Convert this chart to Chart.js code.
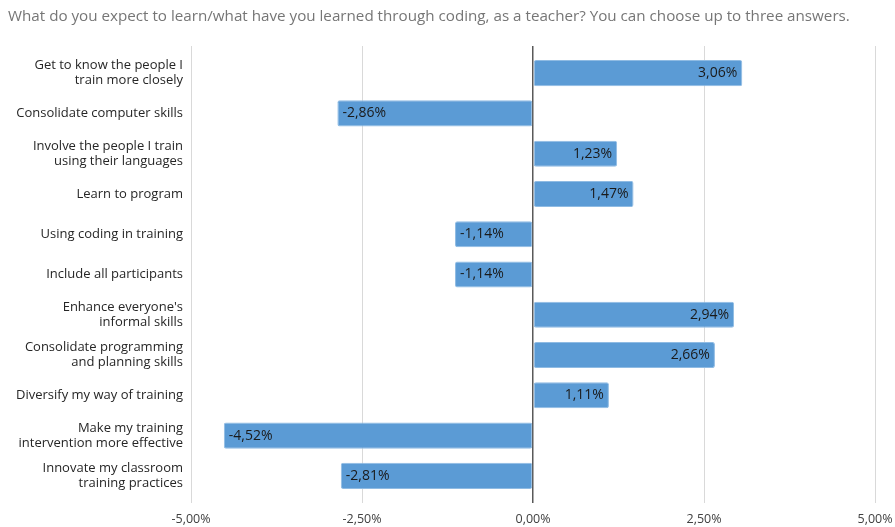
<!DOCTYPE html>
<html>
<head>
<meta charset="utf-8">
<title>Coding for teachers</title>
<script src="https://cdn.jsdelivr.net/npm/chart.js@4/dist/chart.umd.min.js"></script>
<style>
  html, body { margin: 0; padding: 0; background: #fff; }
  #wrap { width: 895px; height: 527px; position: relative; }
</style>
</head>
<body>
<div id="wrap"><canvas id="chart"></canvas></div>
<script>
const TITLE = 'What do you expect to learn/what have you learned through coding, as a teacher? You can choose up to three answers.';

const categories = [
    ['Get to know the people I', 'train more closely'],
    'Consolidate computer skills',
    ['Involve the people I train', 'using their languages'],
    'Learn to program',
    'Using coding in training',
    'Include all participants',
    ["Enhance everyone's", 'informal skills'],
    ['Consolidate programming', 'and planning skills'],
    'Diversify my way of training',
    ['Make my training', 'intervention more effective'],
    ['Innovate my classroom', 'training practices']
];

const values = [3.06, -2.86, 1.23, 1.47, -1.14, -1.14, 2.94, 2.66, 1.11, -4.52, -2.81];

const xTicks = [-5, -2.5, 0, 2.5, 5];

const fmt = v => v.toFixed(2).replace('.', ',') + '%';

const gridColor = ctx => ctx.tick && ctx.tick.value === 0 ? '#595959' : '#d9d9d9';
const gridWidth = ctx => ctx.tick && ctx.tick.value === 0 ? 1.5 : 1;
const useTicks = scale => { scale.ticks = xTicks.map(v => ({ value: v })); };
const fitX = h => scale => {
    scale.height = h;
    scale.paddingLeft = 0;
    scale.paddingRight = 20;
};

// title text in the top-left corner
const titlePlugin = {
    id: 'topTitle',
    afterDraw(chart) {
        const ctx = chart.ctx;
        ctx.save();
        ctx.font = '15.2px "Open Sans"';
        ctx.fillStyle = '#767676';
        ctx.textAlign = 'left';
        ctx.textBaseline = 'middle';
        ctx.fillText(TITLE, 8, 17);
        ctx.restore();
    }
};

// value labels drawn inside the bar, at its outer end
const valueLabels = {
    id: 'valueLabels',
    afterDatasetsDraw(chart) {
        const ctx = chart.ctx;
        const meta = chart.getDatasetMeta(0);
        ctx.save();
        ctx.font = '14px "Open Sans"';
        ctx.fillStyle = '#1a1a1a';
        ctx.textBaseline = 'middle';
        meta.data.forEach((bar, i) => {
            const v = values[i];
            if (v >= 0) {
                ctx.textAlign = 'right';
                ctx.fillText(fmt(v), bar.x - 5, bar.y);
            } else {
                ctx.textAlign = 'left';
                ctx.fillText(fmt(v), bar.x + 5, bar.y);
            }
        });
        ctx.restore();
    }
};

new Chart(document.getElementById('chart'), {
    type: 'bar',
    data: {
        labels: categories,
        datasets: [{
            data: values,
            xAxisID: 'x',
            backgroundColor: '#5b9bd5',
            borderColor: '#8fbbe3',
            borderWidth: 1,
            borderSkipped: false,
            borderRadius: 2,
            barPercentage: 0.9,
            categoryPercentage: 0.72
        }]
    },
    options: {
        indexAxis: 'y',
        responsive: true,
        maintainAspectRatio: false,
        animation: false,
        layout: { padding: { left: 0, right: 20, top: 46, bottom: 0 } },
        plugins: {
            legend: { display: false },
            tooltip: { enabled: false }
        },
        scales: {
            x: {
                min: -5,
                max: 5,
                afterBuildTicks: useTicks,
                afterFit: fitX(31),
                grid: {
                    drawTicks: true,
                    tickLength: 7,
                    color: gridColor,
                    lineWidth: gridWidth
                },
                border: { display: false },
                ticks: {
                    padding: 9,
                    color: '#404040',
                    font: { family: 'Open Sans', size: 12.5 },
                    callback: v => fmt(v)
                }
            },
            // top axis only extends the grid lines a little above the bars
            x2: {
                position: 'top',
                min: -5,
                max: 5,
                afterBuildTicks: useTicks,
                afterFit: fitX(7),
                grid: {
                    drawOnChartArea: false,
                    drawTicks: true,
                    tickLength: 7,
                    color: gridColor,
                    lineWidth: gridWidth
                },
                border: { display: false },
                ticks: { display: false }
            },
            y: {
                afterFit: scale => { scale.width = 191; },
                grid: { display: false, drawTicks: false },
                border: { display: false },
                ticks: {
                    padding: 8,
                    color: '#262626',
                    font: { family: 'Open Sans', size: 13, lineHeight: 1.15 }
                }
            }
        }
    },
    plugins: [titlePlugin, valueLabels]
});
</script>
</body>
</html>
